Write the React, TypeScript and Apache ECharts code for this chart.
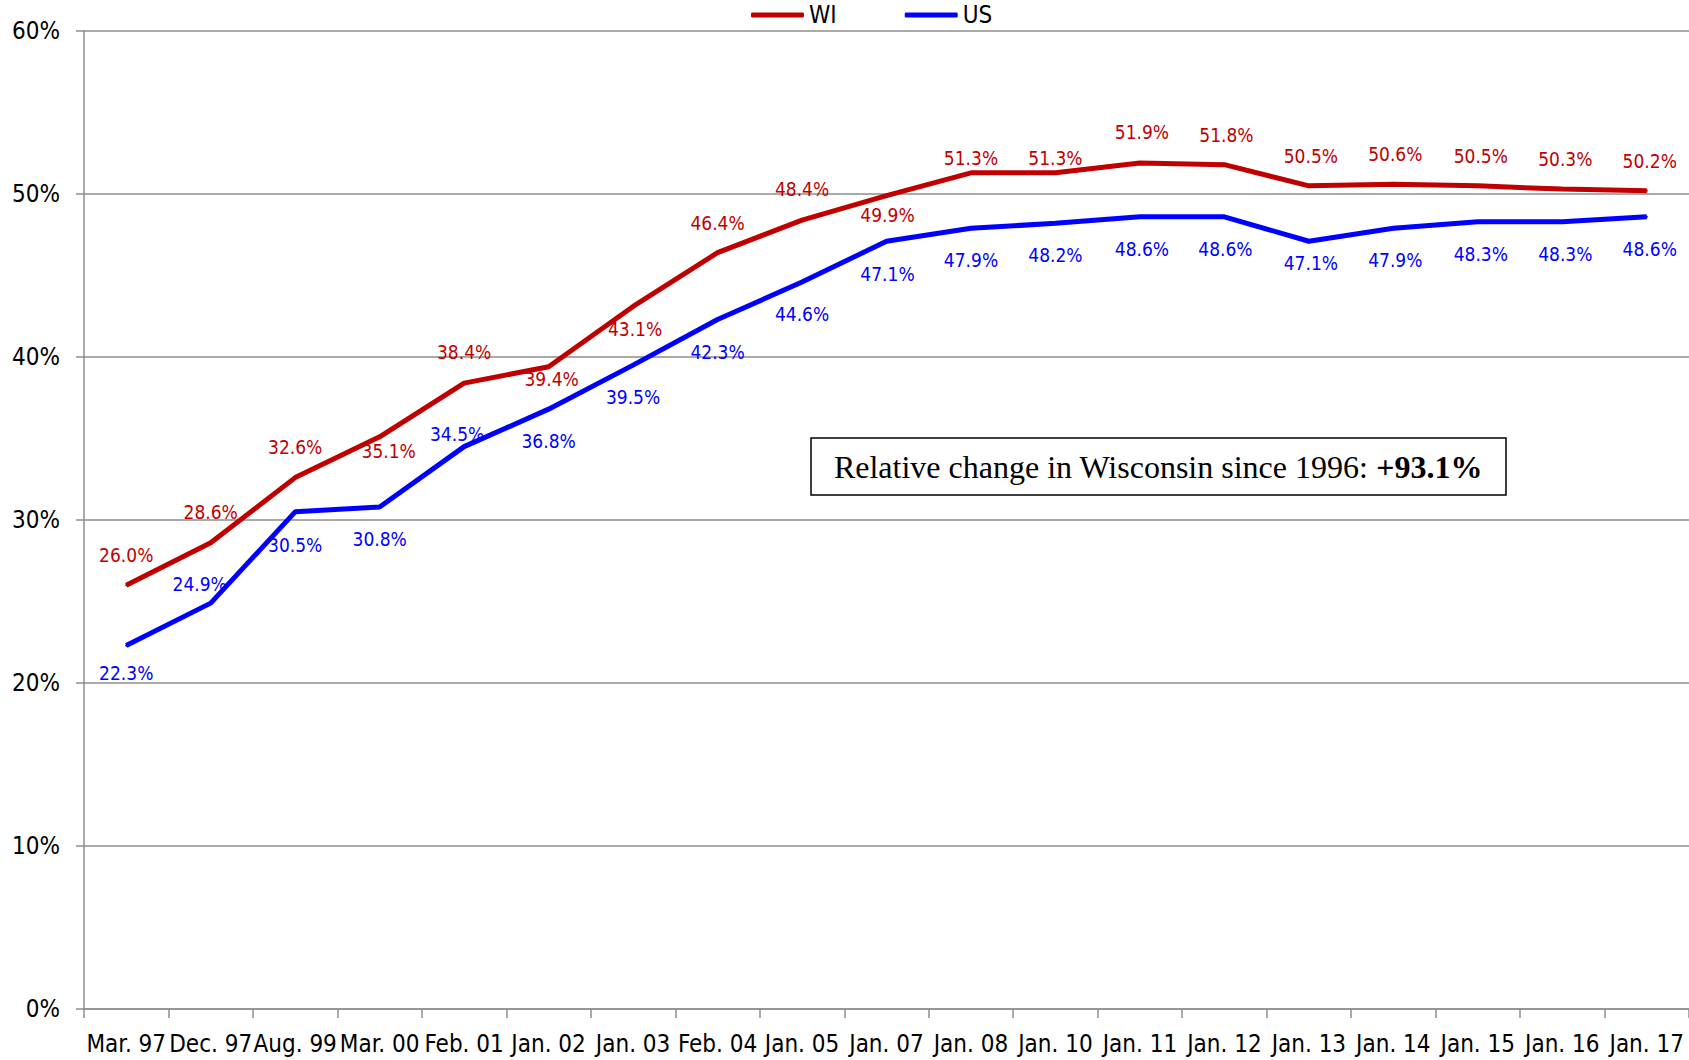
import React, { useEffect, useRef } from "react";
import * as echarts from "echarts";

const categories = [
  "Mar. 97", "Dec. 97", "Aug. 99", "Mar. 00", "Feb. 01", "Jan. 02", "Jan. 03", "Feb. 04", "Jan. 05", "Jan. 07",
  "Jan. 08", "Jan. 10", "Jan. 11", "Jan. 12", "Jan. 13", "Jan. 14", "Jan. 15", "Jan. 16", "Jan. 17",
];
const wiValues = [26.0, 28.6, 32.6, 35.1, 38.4, 39.4, 43.1, 46.4, 48.4, 49.9, 51.3, 51.3, 51.9, 51.8, 50.5, 50.6, 50.5, 50.3, 50.2];
const usValues = [22.3, 24.9, 30.5, 30.8, 34.5, 36.8, 39.5, 42.3, 44.6, 47.1, 47.9, 48.2, 48.6, 48.6, 47.1, 47.9, 48.3, 48.3, 48.6];

// label offsets (dx, dy) in px relative to the point
const wiLabelOffsets: [number, number][] = [
  [0, -30], [0, -31], [0, -31], [9, 14], [0, -31], [3, 12], [2, 23], [0, -30], [0, -31], [1, 19],
  [0, -15], [0, -15], [2, -31], [2, -30], [2, -30], [2, -30], [3, -30], [3, -30], [3, -30],
];
const usLabelOffsets: [number, number][] = [
  [0, 27], [-11, -19], [0, 33], [0, 32], [-7, -13], [0, 32], [0, 32], [0, 32], [0, 32], [1, 33],
  [0, 32], [0, 32], [2, 32], [1, 32], [2, 22], [2, 32], [3, 32], [3, 32], [3, 32],
];

const WI_COLOR = "#C00000";
const US_COLOR = "#0000FF";
const AXIS_FONT = "'Liberation Sans Narrow', 'DejaVu Sans Condensed', 'Liberation Sans', sans-serif";

function buildData(values: number[], offsets: [number, number][]) {
  return values.map((v, i) => ({
    value: v,
    label: { offset: offsets[i] },
  }));
}

export default function App() {
  const ref = useRef<HTMLDivElement>(null);
  useEffect(() => {
    if (!ref.current) return;
    const chart = echarts.init(ref.current, undefined, { renderer: "svg" });
    const gridColor = "#8e8e8e";
    const labelCommon = {
      show: true,
      position: "inside",
      fontFamily: AXIS_FONT,
      fontSize: 19,
      formatter: (p: any) => Number(p.value).toFixed(1) + "%",
    };
    chart.setOption({
      animation: false,
      backgroundColor: "#ffffff",
      legend: {
        left: 751,
        top: 3,
        padding: 0,
        itemWidth: 53,
        itemHeight: 5,
        itemGap: 68,
        icon: "roundRect",
        textStyle: { fontFamily: AXIS_FONT, fontSize: 24, color: "#000" },
        data: ["WI", "US"],
      },
      grid: { left: 84, right: 0, top: 31, bottom: 51, containLabel: false },
      xAxis: {
        type: "category",
        data: categories,
        boundaryGap: true,
        axisLine: { show: true, lineStyle: { color: gridColor, width: 1.5 } },
        axisTick: { show: true, interval: 0, length: 9, lineStyle: { color: gridColor, width: 1.5 } },
        axisLabel: {
          interval: 0,
          margin: 23,
          fontFamily: AXIS_FONT,
          fontSize: 24,
          color: "#000",
        },
        splitLine: { show: false },
      },
      yAxis: {
        type: "value",
        min: 0,
        max: 60,
        interval: 10,
        axisLine: { show: true, lineStyle: { color: gridColor, width: 1.5 } },
        axisTick: { show: true, length: 8, lineStyle: { color: gridColor, width: 1.5 } },
        axisLabel: {
          formatter: "{value}%",
          margin: 24,
          fontFamily: AXIS_FONT,
          fontSize: 24,
          color: "#000",
        },
        splitLine: { show: true, lineStyle: { color: gridColor, width: 1.5 } },
      },
      series: [
        {
          name: "WI",
          type: "line",
          data: buildData(wiValues, wiLabelOffsets),
          symbol: "circle",
          symbolSize: 2,
          showSymbol: true,
          lineStyle: { color: WI_COLOR, width: 5 },
          itemStyle: { color: WI_COLOR },
          label: { ...labelCommon, color: WI_COLOR },
          z: 3,
        },
        {
          name: "US",
          type: "line",
          data: buildData(usValues, usLabelOffsets),
          symbol: "circle",
          symbolSize: 2,
          showSymbol: true,
          lineStyle: { color: US_COLOR, width: 5 },
          itemStyle: { color: US_COLOR },
          label: { ...labelCommon, color: US_COLOR },
          z: 3,
        },
      ],
      graphic: [
        {
          type: "rect",
          shape: { x: 811, y: 438, width: 695, height: 57 },
          style: { fill: "#ffffff", stroke: "#000000", lineWidth: 1.5 },
          z: 10,
        },
        {
          type: "text",
          x: 1158,
          y: 467,
          z: 11,
          style: {
            text: "{a|Relative change in Wisconsin since 1996: }{b|+93.1%}",
            align: "center",
            verticalAlign: "middle",
            rich: {
              a: { fontFamily: "'Liberation Serif', 'DejaVu Serif', serif", fontSize: 32, fill: "#000" },
              b: { fontFamily: "'Liberation Serif', 'DejaVu Serif', serif", fontSize: 32, fontWeight: "bold", fill: "#000" },
            },
          },
        },
      ],
    });
    return () => chart.dispose();
  }, []);
  return (
    <div
      ref={ref}
      style={{ position: "fixed", left: 0, top: 0, width: 1689, height: 1060, background: "#fff" }}
    />
  );
}
